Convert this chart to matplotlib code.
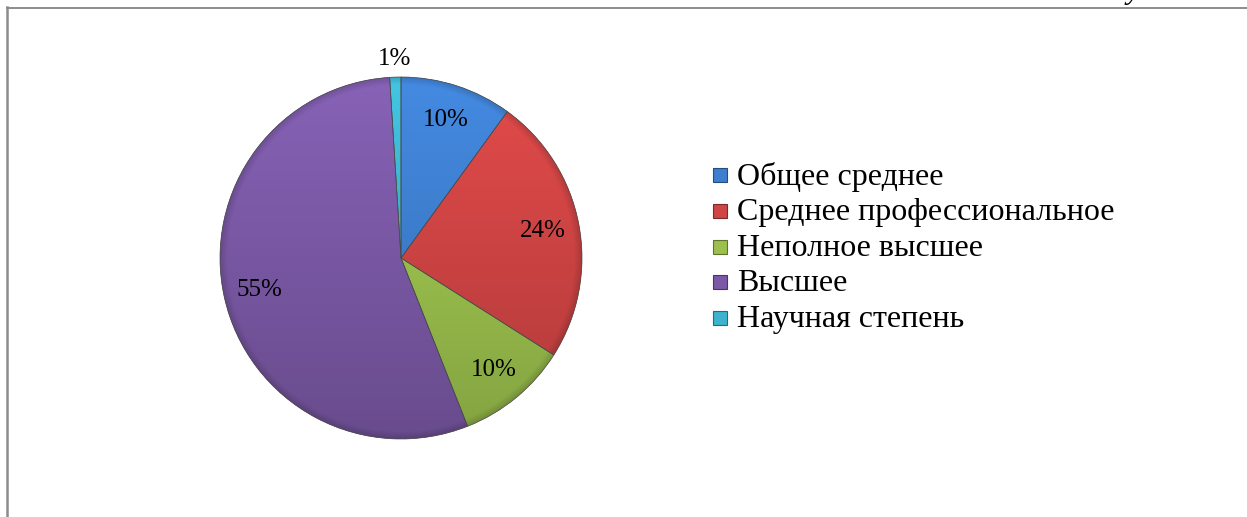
import numpy as np
import matplotlib
matplotlib.use("Agg")
import matplotlib.pyplot as plt
from matplotlib.patches import Rectangle
from matplotlib.lines import Line2D
import matplotlib.colors as mcolors

categories = ['Общее среднее', 'Среднее профессиональное', 'Неполное высшее',
              'Высшее', 'Научная степень']
values = [10, 24, 10, 55, 1]
colors = ['#3E7ECE', '#CF4444', '#9BC04D', '#7B59A6', '#3DB3CE']

W, H = 1247, 517
fig = plt.figure(figsize=(W / 100, H / 100), dpi=100)
fig.patch.set_facecolor('white')
serif = ['Liberation Serif', 'DejaVu Serif']

# pie axes: centre (401, 258) px, radius 181 px
cx, cy, R = 401, 258, 181
half = 200
ax = fig.add_axes([(cx - half) / W, (H - cy - half) / H, 2 * half / W, 2 * half / H])
lim = half / R

wedges, _ = ax.pie(values, colors=colors, startangle=90, counterclock=False,
                   radius=1, center=(0, 0), frame=True,
                   wedgeprops=dict(edgecolor='none', linewidth=0))

# gradient shading
n = 300
yy, xx = np.mgrid[1:-1:n * 1j, -1:1:n * 1j]
rr = np.sqrt(xx ** 2 + yy ** 2)
shade = 1.10 - 0.25 * (1 - yy) / 2           # lighter top, darker bottom
rim = np.clip((rr - 0.96) / 0.04, 0, 1)
for w, c in zip(wedges, colors):
    rgb = np.array(mcolors.to_rgb(c))
    img = np.clip(rgb[None, None, :] * shade[:, :, None], 0, 1)
    img = img * (1 - 0.15 * rim[:, :, None])
    im = ax.imshow(img, extent=[-1, 1, -1, 1], origin='upper', zorder=2,
                   interpolation='bilinear')
    im.set_clip_path(w)

# edge lines
ax.pie(values, colors=['none'] * len(values), startangle=90, counterclock=False,
       radius=1, center=(0, 0), frame=True,
       wedgeprops=dict(edgecolor='#4a4a4a', linewidth=0.5, fill=False, zorder=3))
ax.set_xlim(-lim, lim)
ax.set_ylim(-lim, lim)
ax.set_aspect('equal')
ax.axis('off')

# percentage labels
total = sum(values)
cum = 0
for v in values:
    mid = 90 - 360 * (cum + v / 2) / total
    cum += v
    d = 0.8 if v >= 5 else 1.1
    x = d * np.cos(np.radians(mid))
    y = d * np.sin(np.radians(mid))
    ax.text(x, y, f'{round(100 * v / total)}%', ha='center', va='center',
            fontsize=18, family=serif, color='black', zorder=5)

# legend (manual)
lx_box, lx_txt, ly0, dy = 713, 737, 175, 35.8
for i, (lab, c) in enumerate(zip(categories, colors)):
    yc = ly0 + dy * i
    fig.add_artist(Rectangle((lx_box / W, 1 - (yc + 7) / H), 14 / W, 14 / H,
                             transform=fig.transFigure, facecolor=c,
                             edgecolor=mcolors.to_hex(np.array(mcolors.to_rgb(c)) * 0.6),
                             linewidth=0.8))
    fig.text(lx_txt / W, 1 - (yc + 1.5) / H, lab, ha='left', va='center',
             fontsize=23, family=serif, color='black')

# frame lines
fig.add_artist(Line2D([7 / W, 1], [1 - 7.5 / H, 1 - 7.5 / H], transform=fig.transFigure,
                      color='#8c8c8c', linewidth=1.4))
fig.add_artist(Line2D([7 / W, 7 / W], [1 - 7 / H, 0], transform=fig.transFigure,
                      color='#8c8c8c', linewidth=1.8))

# clipped glyph at the top edge (text from above the chart, only its tail shows)
fig.text(1127 / W, 1 + 1 / H, 'у', ha='left', va='baseline', fontsize=21.5,
         family=serif, style='italic', color='black')

fig.savefig('out.png', dpi=100, facecolor='white')
